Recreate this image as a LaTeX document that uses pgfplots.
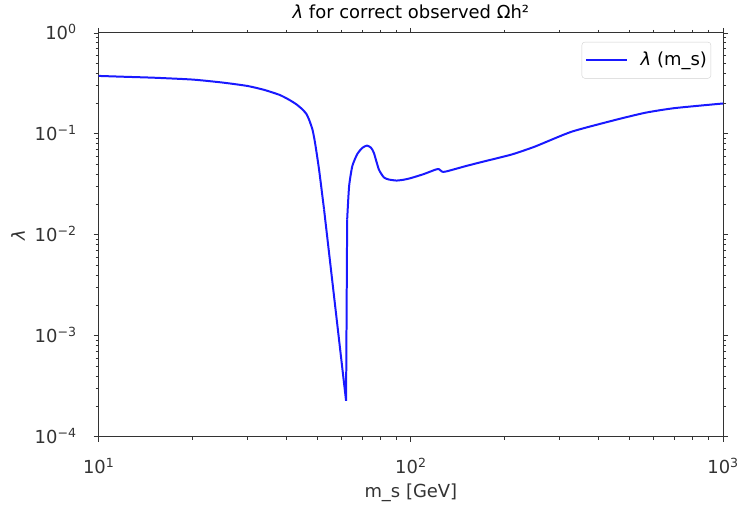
\documentclass[border=0pt]{standalone}
\usepackage{fontspec}
\setmainfont{DejaVu Sans}
\usepackage{pgfplots}
\pgfplotsset{compat=1.18}
\definecolor{lineblue}{RGB}{25,25,255}
\begin{document}
\fontsize{18}{21}\selectfont
\begin{tikzpicture}
\useasboundingbox (-99pt,-72pt) rectangle (641pt,438pt);
\begin{axis}[
  at={(0pt,0pt)}, anchor=south west,
  scale only axis,
  width=626pt, height=405pt,
  xmode=log, ymode=log,
  xmin=10, xmax=1000, ymin=1e-4, ymax=1,
  tick align=outside,
  major tick length=5pt, minor tick length=3pt,
  every tick/.style={black!80, line width=0.8pt},
  axis line style={black!80, line width=1pt},
  xtick={10,100,1000},
  xticklabels={10\textsuperscript{1},10\textsuperscript{2},10\textsuperscript{3}},
  ytick={1e-4,1e-3,1e-2,1e-1,1},
  yticklabels={10\textsuperscript{−4},10\textsuperscript{−3},10\textsuperscript{−2},10\textsuperscript{−1},10\textsuperscript{0}},
  tick label style={font=\fontsize{18}{21}\selectfont, color=black!80, inner sep=0pt},
  xticklabel style={anchor=base, yshift=-32pt},
  yticklabel style={anchor=base east, xshift=-17pt, yshift=-6.5pt},
  xlabel={m\_s [GeV]},
  ylabel={\textit{λ}},
  xlabel style={at={(axis description cs:0.5,0)}, anchor=base, yshift=-61pt, inner sep=0pt, color=black!80},
  ylabel style={at={(axis description cs:0,0.5)}, anchor=center, yshift=81pt, inner sep=0pt, color=black!80},
  title={\textit{λ} for correct observed Ωh²},
  title style={at={(axis description cs:0.5,1)}, anchor=base, yshift=8pt, inner sep=0pt},
  legend style={at={(axis description cs:1,1)}, anchor=north east, xshift=-12pt, yshift=-9pt,
    draw=black!18, rounded corners=3pt, font=\fontsize{18}{21}\selectfont,
    inner xsep=3pt, inner ysep=9pt, nodes={inner sep=1pt}, column sep=12pt},
  legend image code/.code={\draw[#1] (0pt,0pt) -- (41pt,0pt);},
  legend cell align=left,
]
\addplot[color=lineblue, line width=2pt, smooth, tension=0.35] coordinates {
(10,0.375) (12,0.368) (15,0.36) (20,0.345) (25,0.322) (30,0.298) (34,0.272) (38,0.243) (40.7,0.218) (43,0.196) (45,0.174) (46.3,0.157) (47.2,0.138) (48.4,0.110) (49.3,0.082) (50.8,0.0443) (52.7,0.0179)
};
\addlegendentry{\textit{λ} (m\_s)\hspace{4pt}}
\addplot[color=lineblue, line width=2pt, forget plot] coordinates {
(52.7,0.0179) (62,0.000227) (62.5,0.0142)
};
\addplot[color=lineblue, line width=2pt, smooth, tension=0.35, forget plot] coordinates {
(62.5,0.0142) (63.4,0.0303) (64.9,0.0478) (67.3,0.063) (70,0.073) (72.4,0.0766) (74.5,0.073) (76.1,0.065) (79,0.0443) (82,0.037) (85.1,0.0353) (90,0.0345) (95,0.0352) (100,0.0365) (110,0.040) (120,0.0443) (123,0.0447) (126,0.0422) (130,0.0425) (150,0.048) (170,0.053) (210,0.0624) (250,0.075) (327,0.105) (450,0.137) (564,0.162) (700,0.18) (1000,0.2)
};
\end{axis}
\end{tikzpicture}
\end{document}
